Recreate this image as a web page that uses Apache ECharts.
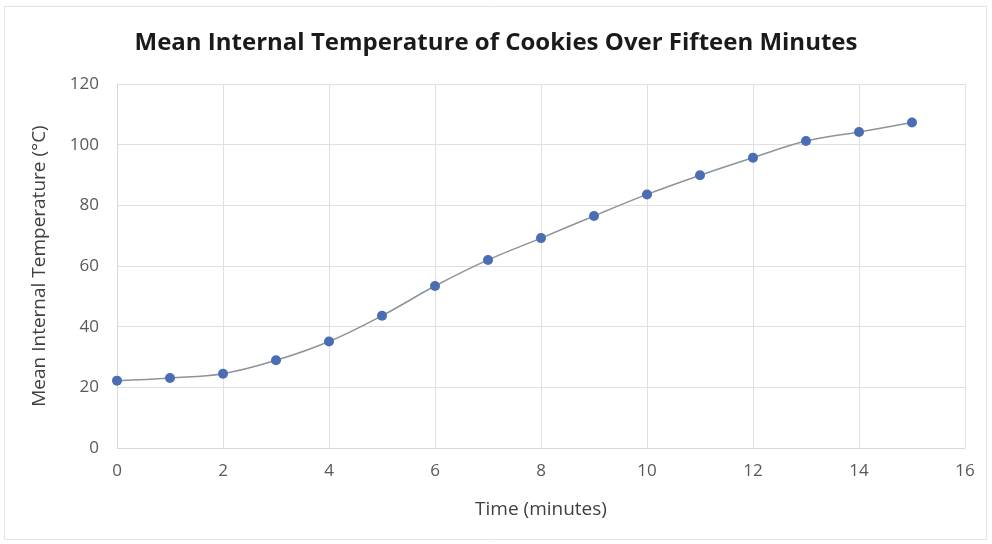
<!DOCTYPE html>
<html>
<head>
<meta charset="utf-8">
<script src="https://cdn.jsdelivr.net/npm/echarts@6/dist/echarts.min.js"></script>
<style>
  html, body { margin: 0; padding: 0; background: #ffffff; }
  #chart { width: 992px; height: 544px; }
</style>
</head>
<body>
<div id="chart"></div>
<script>
// Time in minutes and mean internal temperature (°C) of the cookies
const minutes = [0, 1, 2, 3, 4, 5, 6, 7, 8, 9, 10, 11, 12, 13, 14, 15];
const temperatures = [22.2, 23.1, 24.5, 28.9, 35.1, 43.6, 53.4, 62.0, 69.2, 76.5, 83.6, 89.9, 95.7, 101.2, 104.2, 107.3];

const points = minutes.map((m, i) => [m, temperatures[i]]);

const labelFont = '"Open Sans", "Noto Sans", sans-serif';
const chart = echarts.init(document.getElementById('chart'), null, { renderer: 'canvas' });

chart.setOption({
  backgroundColor: '#ffffff',
  animation: false,
  title: {
    text: 'Mean Internal Temperature of Cookies Over Fifteen Minutes',
    left: 'center',
    top: 26,
    textStyle: {
      fontFamily: labelFont,
      fontWeight: 'bold',
      fontSize: 24,
      color: '#1a1a1a'
    }
  },
  graphic: [{
    type: 'rect',
    shape: { x: 4.5, y: 6.5, width: 982, height: 533 },
    style: { fill: 'none', stroke: '#e3e3e3', lineWidth: 1 },
    silent: true,
    z: -1
  }],
  grid: { left: 117, right: 27, top: 84, bottom: 96 },
  xAxis: {
    type: 'value',
    min: 0,
    max: 16,
    interval: 2,
    name: 'Time (minutes)',
    nameLocation: 'middle',
    nameGap: 52,
    nameTextStyle: { fontFamily: labelFont, fontSize: 19, color: '#404040' },
    axisLine: { show: true, lineStyle: { color: '#d9d9d9', width: 1 } },
    axisTick: { show: false },
    axisLabel: { fontFamily: labelFont, fontSize: 17, color: '#595959', margin: 15 },
    splitLine: { show: true, lineStyle: { color: '#e0e0e0', width: 1 } }
  },
  yAxis: {
    type: 'value',
    min: 0,
    max: 120,
    interval: 20,
    name: 'Mean Internal Temperature (°C)',
    nameLocation: 'middle',
    nameGap: 68,
    nameTextStyle: { fontFamily: labelFont, fontSize: 19, color: '#404040' },
    axisLine: { show: true, lineStyle: { color: '#d9d9d9', width: 1 } },
    axisTick: { show: false },
    axisLabel: { fontFamily: labelFont, fontSize: 17, color: '#595959', margin: 18 },
    splitLine: { show: true, lineStyle: { color: '#e0e0e0', width: 1 } }
  },
  series: [{
    type: 'line',
    data: points,
    smooth: 0.4,
    symbol: 'circle',
    symbolSize: 10,
    lineStyle: { color: '#8a9499', width: 1.5 },
    itemStyle: { color: '#4a6db3', borderWidth: 0 }
  }]
});
</script>
</body>
</html>
